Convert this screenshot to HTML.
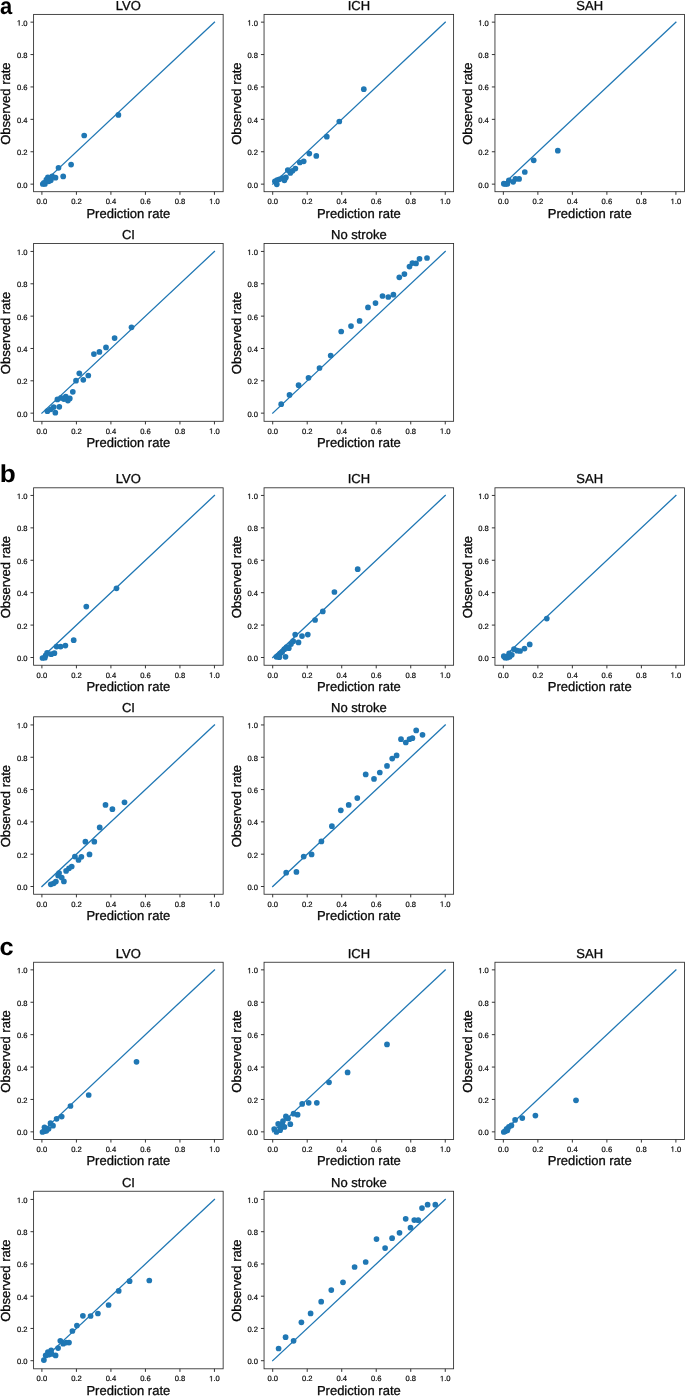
<!DOCTYPE html>
<html><head><meta charset="utf-8"><title>Calibration plots</title>
<style>
html,body{margin:0;padding:0;background:#fff;}
body{width:685px;height:1396px;overflow:hidden;}
svg{display:block;will-change:transform;}
text{font-family:"Liberation Sans",sans-serif;fill:#0a0a0a;text-rendering:geometricPrecision;}
.tk{font-size:7.6px;stroke:#0a0a0a;stroke-width:0.2px;}
.tk1{fill:#0a0a0a;stroke:#0a0a0a;stroke-width:53.89px;}
.lb{font-size:13px;stroke:#0a0a0a;stroke-width:0.3px;}
.pn{font-size:24.5px;font-weight:bold;fill:#000;}
.sp{fill:none;stroke:#2b2b2b;stroke-width:0.85;}
.ti{stroke:#2b2b2b;stroke-width:0.95;}
.ln{stroke:#1f77b4;stroke-width:1.28;stroke-linecap:square;fill:none;}
.pt{fill:#1f77b4;}
</style></head><body>
<svg width="685" height="1396" viewBox="0 0 685 1396">
<rect x="0" y="0" width="685" height="1396" fill="#fff"/>
<g>
<text class="lb" x="128.38" y="9.8" text-anchor="middle">LVO</text>
<line class="ln" x1="41.9" y1="184.15" x2="214.45" y2="22.15"/>
<circle class="pt" cx="118.4" cy="114.9" r="2.85"/>
<circle class="pt" cx="84.2" cy="135.5" r="2.85"/>
<circle class="pt" cx="71.1" cy="164.6" r="2.85"/>
<circle class="pt" cx="58.5" cy="167.8" r="2.85"/>
<circle class="pt" cx="63.2" cy="176.4" r="2.85"/>
<circle class="pt" cx="55.5" cy="177.7" r="2.85"/>
<circle class="pt" cx="52.2" cy="176.4" r="2.85"/>
<circle class="pt" cx="47.9" cy="177.4" r="2.85"/>
<circle class="pt" cx="50.8" cy="180.3" r="2.85"/>
<circle class="pt" cx="46.4" cy="179.6" r="2.85"/>
<circle class="pt" cx="48.6" cy="181.3" r="2.85"/>
<circle class="pt" cx="42.8" cy="184" r="2.85"/>
<circle class="pt" cx="44.9" cy="184" r="2.85"/>
<circle class="pt" cx="43.9" cy="182.8" r="2.85"/>
<rect class="sp" x="33.6" y="14.4" width="189.55" height="177.3"/>
<line class="ti" x1="41.9" y1="191.7" x2="41.9" y2="194.8"/>
<line class="ti" x1="30.5" y1="184.15" x2="33.6" y2="184.15"/>
<text class="tk" x="41.9" y="204.1" text-anchor="middle">0.0</text>
<text class="tk" x="27.5" y="187.6" text-anchor="end">0.0</text>
<line class="ti" x1="76.41" y1="191.7" x2="76.41" y2="194.8"/>
<line class="ti" x1="30.5" y1="151.75" x2="33.6" y2="151.75"/>
<text class="tk" x="76.41" y="204.1" text-anchor="middle">0.2</text>
<text class="tk" x="27.5" y="155.2" text-anchor="end">0.2</text>
<line class="ti" x1="110.92" y1="191.7" x2="110.92" y2="194.8"/>
<line class="ti" x1="30.5" y1="119.35" x2="33.6" y2="119.35"/>
<text class="tk" x="110.92" y="204.1" text-anchor="middle">0.4</text>
<text class="tk" x="27.5" y="122.8" text-anchor="end">0.4</text>
<line class="ti" x1="145.43" y1="191.7" x2="145.43" y2="194.8"/>
<line class="ti" x1="30.5" y1="86.95" x2="33.6" y2="86.95"/>
<text class="tk" x="145.43" y="204.1" text-anchor="middle">0.6</text>
<text class="tk" x="27.5" y="90.4" text-anchor="end">0.6</text>
<line class="ti" x1="179.94" y1="191.7" x2="179.94" y2="194.8"/>
<line class="ti" x1="30.5" y1="54.55" x2="33.6" y2="54.55"/>
<text class="tk" x="179.94" y="204.1" text-anchor="middle">0.8</text>
<text class="tk" x="27.5" y="58" text-anchor="end">0.8</text>
<line class="ti" x1="214.45" y1="191.7" x2="214.45" y2="194.8"/>
<line class="ti" x1="30.5" y1="22.15" x2="33.6" y2="22.15"/>
<path class="tk1" transform="translate(209.17 204.1) scale(0.00371)" d="M515 0V-1237L197 -1010V-1180L530 -1409H696V0Z"/><text class="tk" x="213.39" y="204.1">.0</text>
<path class="tk1" transform="translate(16.94 25.6) scale(0.00371)" d="M515 0V-1237L197 -1010V-1180L530 -1409H696V0Z"/><text class="tk" x="21.16" y="25.6">.0</text>
<text class="lb" x="128.38" y="217.7" text-anchor="middle">Prediction rate</text>
<text class="lb" transform="translate(10.2 103.65) rotate(-90)" text-anchor="middle">Observed rate</text>
</g>
<g>
<text class="lb" x="358.83" y="9.8" text-anchor="middle">ICH</text>
<line class="ln" x1="272.7" y1="184.15" x2="445.25" y2="22.15"/>
<circle class="pt" cx="363.8" cy="89.2" r="2.85"/>
<circle class="pt" cx="339.3" cy="121.5" r="2.85"/>
<circle class="pt" cx="326.8" cy="136.7" r="2.85"/>
<circle class="pt" cx="309.3" cy="153.6" r="2.85"/>
<circle class="pt" cx="316.3" cy="155.9" r="2.85"/>
<circle class="pt" cx="303.7" cy="161.3" r="2.85"/>
<circle class="pt" cx="299.8" cy="162.5" r="2.85"/>
<circle class="pt" cx="295.4" cy="168.6" r="2.85"/>
<circle class="pt" cx="292.5" cy="170.8" r="2.85"/>
<circle class="pt" cx="290.3" cy="173" r="2.85"/>
<circle class="pt" cx="287.8" cy="170.1" r="2.85"/>
<circle class="pt" cx="285.9" cy="177.4" r="2.85"/>
<circle class="pt" cx="282.2" cy="178.1" r="2.85"/>
<circle class="pt" cx="284.4" cy="180.3" r="2.85"/>
<circle class="pt" cx="279.3" cy="179.3" r="2.85"/>
<circle class="pt" cx="277.1" cy="180" r="2.85"/>
<circle class="pt" cx="274.9" cy="181.3" r="2.85"/>
<circle class="pt" cx="276.8" cy="184.3" r="2.85"/>
<rect class="sp" x="264.05" y="14.4" width="189.55" height="177.3"/>
<line class="ti" x1="272.7" y1="191.7" x2="272.7" y2="194.8"/>
<line class="ti" x1="260.95" y1="184.15" x2="264.05" y2="184.15"/>
<text class="tk" x="272.7" y="204.1" text-anchor="middle">0.0</text>
<text class="tk" x="257.95" y="187.6" text-anchor="end">0.0</text>
<line class="ti" x1="307.21" y1="191.7" x2="307.21" y2="194.8"/>
<line class="ti" x1="260.95" y1="151.75" x2="264.05" y2="151.75"/>
<text class="tk" x="307.21" y="204.1" text-anchor="middle">0.2</text>
<text class="tk" x="257.95" y="155.2" text-anchor="end">0.2</text>
<line class="ti" x1="341.72" y1="191.7" x2="341.72" y2="194.8"/>
<line class="ti" x1="260.95" y1="119.35" x2="264.05" y2="119.35"/>
<text class="tk" x="341.72" y="204.1" text-anchor="middle">0.4</text>
<text class="tk" x="257.95" y="122.8" text-anchor="end">0.4</text>
<line class="ti" x1="376.23" y1="191.7" x2="376.23" y2="194.8"/>
<line class="ti" x1="260.95" y1="86.95" x2="264.05" y2="86.95"/>
<text class="tk" x="376.23" y="204.1" text-anchor="middle">0.6</text>
<text class="tk" x="257.95" y="90.4" text-anchor="end">0.6</text>
<line class="ti" x1="410.74" y1="191.7" x2="410.74" y2="194.8"/>
<line class="ti" x1="260.95" y1="54.55" x2="264.05" y2="54.55"/>
<text class="tk" x="410.74" y="204.1" text-anchor="middle">0.8</text>
<text class="tk" x="257.95" y="58" text-anchor="end">0.8</text>
<line class="ti" x1="445.25" y1="191.7" x2="445.25" y2="194.8"/>
<line class="ti" x1="260.95" y1="22.15" x2="264.05" y2="22.15"/>
<path class="tk1" transform="translate(439.97 204.1) scale(0.00371)" d="M515 0V-1237L197 -1010V-1180L530 -1409H696V0Z"/><text class="tk" x="444.19" y="204.1">.0</text>
<path class="tk1" transform="translate(247.39 25.6) scale(0.00371)" d="M515 0V-1237L197 -1010V-1180L530 -1409H696V0Z"/><text class="tk" x="251.61" y="25.6">.0</text>
<text class="lb" x="358.83" y="217.7" text-anchor="middle">Prediction rate</text>
<text class="lb" transform="translate(240.65 103.65) rotate(-90)" text-anchor="middle">Observed rate</text>
</g>
<g>
<text class="lb" x="589.73" y="9.8" text-anchor="middle">SAH</text>
<line class="ln" x1="503.35" y1="184.15" x2="675.9" y2="22.15"/>
<circle class="pt" cx="557.8" cy="150.7" r="2.85"/>
<circle class="pt" cx="533.7" cy="160.3" r="2.85"/>
<circle class="pt" cx="524.8" cy="172" r="2.85"/>
<circle class="pt" cx="519.1" cy="178.9" r="2.85"/>
<circle class="pt" cx="515.4" cy="178.9" r="2.85"/>
<circle class="pt" cx="513.2" cy="181.8" r="2.85"/>
<circle class="pt" cx="508.9" cy="180.3" r="2.85"/>
<circle class="pt" cx="507.4" cy="184" r="2.85"/>
<circle class="pt" cx="505.2" cy="184" r="2.85"/>
<circle class="pt" cx="503.8" cy="183.7" r="2.85"/>
<rect class="sp" x="494.95" y="14.4" width="189.55" height="177.3"/>
<line class="ti" x1="503.35" y1="191.7" x2="503.35" y2="194.8"/>
<line class="ti" x1="491.85" y1="184.15" x2="494.95" y2="184.15"/>
<text class="tk" x="503.35" y="204.1" text-anchor="middle">0.0</text>
<text class="tk" x="488.85" y="187.6" text-anchor="end">0.0</text>
<line class="ti" x1="537.86" y1="191.7" x2="537.86" y2="194.8"/>
<line class="ti" x1="491.85" y1="151.75" x2="494.95" y2="151.75"/>
<text class="tk" x="537.86" y="204.1" text-anchor="middle">0.2</text>
<text class="tk" x="488.85" y="155.2" text-anchor="end">0.2</text>
<line class="ti" x1="572.37" y1="191.7" x2="572.37" y2="194.8"/>
<line class="ti" x1="491.85" y1="119.35" x2="494.95" y2="119.35"/>
<text class="tk" x="572.37" y="204.1" text-anchor="middle">0.4</text>
<text class="tk" x="488.85" y="122.8" text-anchor="end">0.4</text>
<line class="ti" x1="606.88" y1="191.7" x2="606.88" y2="194.8"/>
<line class="ti" x1="491.85" y1="86.95" x2="494.95" y2="86.95"/>
<text class="tk" x="606.88" y="204.1" text-anchor="middle">0.6</text>
<text class="tk" x="488.85" y="90.4" text-anchor="end">0.6</text>
<line class="ti" x1="641.39" y1="191.7" x2="641.39" y2="194.8"/>
<line class="ti" x1="491.85" y1="54.55" x2="494.95" y2="54.55"/>
<text class="tk" x="641.39" y="204.1" text-anchor="middle">0.8</text>
<text class="tk" x="488.85" y="58" text-anchor="end">0.8</text>
<line class="ti" x1="675.9" y1="191.7" x2="675.9" y2="194.8"/>
<line class="ti" x1="491.85" y1="22.15" x2="494.95" y2="22.15"/>
<path class="tk1" transform="translate(670.62 204.1) scale(0.00371)" d="M515 0V-1237L197 -1010V-1180L530 -1409H696V0Z"/><text class="tk" x="674.84" y="204.1">.0</text>
<path class="tk1" transform="translate(478.29 25.6) scale(0.00371)" d="M515 0V-1237L197 -1010V-1180L530 -1409H696V0Z"/><text class="tk" x="482.51" y="25.6">.0</text>
<text class="lb" x="589.73" y="217.7" text-anchor="middle">Prediction rate</text>
<text class="lb" transform="translate(471.55 103.65) rotate(-90)" text-anchor="middle">Observed rate</text>
</g>
<g>
<text class="lb" x="128.38" y="238.9" text-anchor="middle">CI</text>
<line class="ln" x1="41.9" y1="413.15" x2="214.45" y2="251.45"/>
<circle class="pt" cx="131.5" cy="327.3" r="2.85"/>
<circle class="pt" cx="114.6" cy="338.1" r="2.85"/>
<circle class="pt" cx="106" cy="347.4" r="2.85"/>
<circle class="pt" cx="99.4" cy="351.9" r="2.85"/>
<circle class="pt" cx="93.9" cy="354.1" r="2.85"/>
<circle class="pt" cx="79.3" cy="373.3" r="2.85"/>
<circle class="pt" cx="88.3" cy="375.5" r="2.85"/>
<circle class="pt" cx="83.3" cy="379.8" r="2.85"/>
<circle class="pt" cx="76" cy="380.7" r="2.85"/>
<circle class="pt" cx="72.8" cy="391.8" r="2.85"/>
<circle class="pt" cx="69.8" cy="398.4" r="2.85"/>
<circle class="pt" cx="67.9" cy="400.6" r="2.85"/>
<circle class="pt" cx="65.8" cy="396.5" r="2.85"/>
<circle class="pt" cx="63.9" cy="399.1" r="2.85"/>
<circle class="pt" cx="61" cy="397.9" r="2.85"/>
<circle class="pt" cx="57.4" cy="399.4" r="2.85"/>
<circle class="pt" cx="59.3" cy="406.8" r="2.85"/>
<circle class="pt" cx="53.7" cy="407.1" r="2.85"/>
<circle class="pt" cx="50.8" cy="409.3" r="2.85"/>
<circle class="pt" cx="47.4" cy="411.2" r="2.85"/>
<circle class="pt" cx="55.3" cy="412.7" r="2.85"/>
<rect class="sp" x="33.6" y="243.5" width="189.55" height="177.8"/>
<line class="ti" x1="41.9" y1="421.3" x2="41.9" y2="424.4"/>
<line class="ti" x1="30.5" y1="413.15" x2="33.6" y2="413.15"/>
<text class="tk" x="41.9" y="433.7" text-anchor="middle">0.0</text>
<text class="tk" x="27.5" y="416.6" text-anchor="end">0.0</text>
<line class="ti" x1="76.41" y1="421.3" x2="76.41" y2="424.4"/>
<line class="ti" x1="30.5" y1="380.81" x2="33.6" y2="380.81"/>
<text class="tk" x="76.41" y="433.7" text-anchor="middle">0.2</text>
<text class="tk" x="27.5" y="384.26" text-anchor="end">0.2</text>
<line class="ti" x1="110.92" y1="421.3" x2="110.92" y2="424.4"/>
<line class="ti" x1="30.5" y1="348.47" x2="33.6" y2="348.47"/>
<text class="tk" x="110.92" y="433.7" text-anchor="middle">0.4</text>
<text class="tk" x="27.5" y="351.92" text-anchor="end">0.4</text>
<line class="ti" x1="145.43" y1="421.3" x2="145.43" y2="424.4"/>
<line class="ti" x1="30.5" y1="316.13" x2="33.6" y2="316.13"/>
<text class="tk" x="145.43" y="433.7" text-anchor="middle">0.6</text>
<text class="tk" x="27.5" y="319.58" text-anchor="end">0.6</text>
<line class="ti" x1="179.94" y1="421.3" x2="179.94" y2="424.4"/>
<line class="ti" x1="30.5" y1="283.79" x2="33.6" y2="283.79"/>
<text class="tk" x="179.94" y="433.7" text-anchor="middle">0.8</text>
<text class="tk" x="27.5" y="287.24" text-anchor="end">0.8</text>
<line class="ti" x1="214.45" y1="421.3" x2="214.45" y2="424.4"/>
<line class="ti" x1="30.5" y1="251.45" x2="33.6" y2="251.45"/>
<path class="tk1" transform="translate(209.17 433.7) scale(0.00371)" d="M515 0V-1237L197 -1010V-1180L530 -1409H696V0Z"/><text class="tk" x="213.39" y="433.7">.0</text>
<path class="tk1" transform="translate(16.94 254.9) scale(0.00371)" d="M515 0V-1237L197 -1010V-1180L530 -1409H696V0Z"/><text class="tk" x="21.16" y="254.9">.0</text>
<text class="lb" x="128.38" y="447.3" text-anchor="middle">Prediction rate</text>
<text class="lb" transform="translate(10.2 333) rotate(-90)" text-anchor="middle">Observed rate</text>
</g>
<g>
<text class="lb" x="358.83" y="238.9" text-anchor="middle">No stroke</text>
<line class="ln" x1="272.7" y1="413.15" x2="445.25" y2="251.45"/>
<circle class="pt" cx="281.2" cy="404.2" r="2.85"/>
<circle class="pt" cx="289.5" cy="394.9" r="2.85"/>
<circle class="pt" cx="298.6" cy="385.2" r="2.85"/>
<circle class="pt" cx="308.5" cy="377.8" r="2.85"/>
<circle class="pt" cx="319.5" cy="368" r="2.85"/>
<circle class="pt" cx="330.7" cy="355.5" r="2.85"/>
<circle class="pt" cx="341.2" cy="331.5" r="2.85"/>
<circle class="pt" cx="351" cy="326.1" r="2.85"/>
<circle class="pt" cx="359.6" cy="320.9" r="2.85"/>
<circle class="pt" cx="368" cy="307.4" r="2.85"/>
<circle class="pt" cx="375.5" cy="303.1" r="2.85"/>
<circle class="pt" cx="382.5" cy="296" r="2.85"/>
<circle class="pt" cx="388.3" cy="297" r="2.85"/>
<circle class="pt" cx="393.4" cy="294.7" r="2.85"/>
<circle class="pt" cx="399.3" cy="277.3" r="2.85"/>
<circle class="pt" cx="404.4" cy="274.1" r="2.85"/>
<circle class="pt" cx="409.5" cy="266.6" r="2.85"/>
<circle class="pt" cx="412.4" cy="263.1" r="2.85"/>
<circle class="pt" cx="416" cy="263.4" r="2.85"/>
<circle class="pt" cx="419.5" cy="258.8" r="2.85"/>
<circle class="pt" cx="427" cy="258" r="2.85"/>
<rect class="sp" x="264.05" y="243.5" width="189.55" height="177.8"/>
<line class="ti" x1="272.7" y1="421.3" x2="272.7" y2="424.4"/>
<line class="ti" x1="260.95" y1="413.15" x2="264.05" y2="413.15"/>
<text class="tk" x="272.7" y="433.7" text-anchor="middle">0.0</text>
<text class="tk" x="257.95" y="416.6" text-anchor="end">0.0</text>
<line class="ti" x1="307.21" y1="421.3" x2="307.21" y2="424.4"/>
<line class="ti" x1="260.95" y1="380.81" x2="264.05" y2="380.81"/>
<text class="tk" x="307.21" y="433.7" text-anchor="middle">0.2</text>
<text class="tk" x="257.95" y="384.26" text-anchor="end">0.2</text>
<line class="ti" x1="341.72" y1="421.3" x2="341.72" y2="424.4"/>
<line class="ti" x1="260.95" y1="348.47" x2="264.05" y2="348.47"/>
<text class="tk" x="341.72" y="433.7" text-anchor="middle">0.4</text>
<text class="tk" x="257.95" y="351.92" text-anchor="end">0.4</text>
<line class="ti" x1="376.23" y1="421.3" x2="376.23" y2="424.4"/>
<line class="ti" x1="260.95" y1="316.13" x2="264.05" y2="316.13"/>
<text class="tk" x="376.23" y="433.7" text-anchor="middle">0.6</text>
<text class="tk" x="257.95" y="319.58" text-anchor="end">0.6</text>
<line class="ti" x1="410.74" y1="421.3" x2="410.74" y2="424.4"/>
<line class="ti" x1="260.95" y1="283.79" x2="264.05" y2="283.79"/>
<text class="tk" x="410.74" y="433.7" text-anchor="middle">0.8</text>
<text class="tk" x="257.95" y="287.24" text-anchor="end">0.8</text>
<line class="ti" x1="445.25" y1="421.3" x2="445.25" y2="424.4"/>
<line class="ti" x1="260.95" y1="251.45" x2="264.05" y2="251.45"/>
<path class="tk1" transform="translate(439.97 433.7) scale(0.00371)" d="M515 0V-1237L197 -1010V-1180L530 -1409H696V0Z"/><text class="tk" x="444.19" y="433.7">.0</text>
<path class="tk1" transform="translate(247.39 254.9) scale(0.00371)" d="M515 0V-1237L197 -1010V-1180L530 -1409H696V0Z"/><text class="tk" x="251.61" y="254.9">.0</text>
<text class="lb" x="358.83" y="447.3" text-anchor="middle">Prediction rate</text>
<text class="lb" transform="translate(240.65 333) rotate(-90)" text-anchor="middle">Observed rate</text>
</g>
<g>
<text class="lb" x="128.38" y="483.2" text-anchor="middle">LVO</text>
<line class="ln" x1="41.9" y1="657.5" x2="214.45" y2="495.45"/>
<circle class="pt" cx="116.5" cy="588.3" r="2.85"/>
<circle class="pt" cx="86.3" cy="606.6" r="2.85"/>
<circle class="pt" cx="73.7" cy="640.2" r="2.85"/>
<circle class="pt" cx="65.4" cy="645.6" r="2.85"/>
<circle class="pt" cx="60.6" cy="646.6" r="2.85"/>
<circle class="pt" cx="56.6" cy="646.6" r="2.85"/>
<circle class="pt" cx="54.4" cy="653.2" r="2.85"/>
<circle class="pt" cx="51.2" cy="654.2" r="2.85"/>
<circle class="pt" cx="47.1" cy="652.9" r="2.85"/>
<circle class="pt" cx="45.7" cy="655.3" r="2.85"/>
<circle class="pt" cx="44.9" cy="657.7" r="2.85"/>
<circle class="pt" cx="42.5" cy="658" r="2.85"/>
<rect class="sp" x="33.6" y="487.8" width="189.55" height="177.45"/>
<line class="ti" x1="41.9" y1="665.25" x2="41.9" y2="668.35"/>
<line class="ti" x1="30.5" y1="657.5" x2="33.6" y2="657.5"/>
<text class="tk" x="41.9" y="677.65" text-anchor="middle">0.0</text>
<text class="tk" x="27.5" y="660.95" text-anchor="end">0.0</text>
<line class="ti" x1="76.41" y1="665.25" x2="76.41" y2="668.35"/>
<line class="ti" x1="30.5" y1="625.09" x2="33.6" y2="625.09"/>
<text class="tk" x="76.41" y="677.65" text-anchor="middle">0.2</text>
<text class="tk" x="27.5" y="628.54" text-anchor="end">0.2</text>
<line class="ti" x1="110.92" y1="665.25" x2="110.92" y2="668.35"/>
<line class="ti" x1="30.5" y1="592.68" x2="33.6" y2="592.68"/>
<text class="tk" x="110.92" y="677.65" text-anchor="middle">0.4</text>
<text class="tk" x="27.5" y="596.13" text-anchor="end">0.4</text>
<line class="ti" x1="145.43" y1="665.25" x2="145.43" y2="668.35"/>
<line class="ti" x1="30.5" y1="560.27" x2="33.6" y2="560.27"/>
<text class="tk" x="145.43" y="677.65" text-anchor="middle">0.6</text>
<text class="tk" x="27.5" y="563.72" text-anchor="end">0.6</text>
<line class="ti" x1="179.94" y1="665.25" x2="179.94" y2="668.35"/>
<line class="ti" x1="30.5" y1="527.86" x2="33.6" y2="527.86"/>
<text class="tk" x="179.94" y="677.65" text-anchor="middle">0.8</text>
<text class="tk" x="27.5" y="531.31" text-anchor="end">0.8</text>
<line class="ti" x1="214.45" y1="665.25" x2="214.45" y2="668.35"/>
<line class="ti" x1="30.5" y1="495.45" x2="33.6" y2="495.45"/>
<path class="tk1" transform="translate(209.17 677.65) scale(0.00371)" d="M515 0V-1237L197 -1010V-1180L530 -1409H696V0Z"/><text class="tk" x="213.39" y="677.65">.0</text>
<path class="tk1" transform="translate(16.94 498.9) scale(0.00371)" d="M515 0V-1237L197 -1010V-1180L530 -1409H696V0Z"/><text class="tk" x="21.16" y="498.9">.0</text>
<text class="lb" x="128.38" y="691.25" text-anchor="middle">Prediction rate</text>
<text class="lb" transform="translate(10.2 577.12) rotate(-90)" text-anchor="middle">Observed rate</text>
</g>
<g>
<text class="lb" x="358.83" y="483.2" text-anchor="middle">ICH</text>
<line class="ln" x1="272.7" y1="657.5" x2="445.25" y2="495.45"/>
<circle class="pt" cx="357.7" cy="569.2" r="2.85"/>
<circle class="pt" cx="334.4" cy="592" r="2.85"/>
<circle class="pt" cx="322.8" cy="611.4" r="2.85"/>
<circle class="pt" cx="315.1" cy="620" r="2.85"/>
<circle class="pt" cx="307.8" cy="634.6" r="2.85"/>
<circle class="pt" cx="302" cy="636.1" r="2.85"/>
<circle class="pt" cx="295.2" cy="634.6" r="2.85"/>
<circle class="pt" cx="298.5" cy="642.4" r="2.85"/>
<circle class="pt" cx="293.2" cy="641.2" r="2.85"/>
<circle class="pt" cx="291" cy="644.1" r="2.85"/>
<circle class="pt" cx="288.8" cy="648.2" r="2.85"/>
<circle class="pt" cx="286.6" cy="647" r="2.85"/>
<circle class="pt" cx="284.4" cy="649.2" r="2.85"/>
<circle class="pt" cx="282.2" cy="652.1" r="2.85"/>
<circle class="pt" cx="280.1" cy="653.6" r="2.85"/>
<circle class="pt" cx="277.9" cy="655.8" r="2.85"/>
<circle class="pt" cx="285.5" cy="656.8" r="2.85"/>
<circle class="pt" cx="276.4" cy="656.8" r="2.85"/>
<circle class="pt" cx="279.3" cy="657.2" r="2.85"/>
<rect class="sp" x="264.05" y="487.8" width="189.55" height="177.45"/>
<line class="ti" x1="272.7" y1="665.25" x2="272.7" y2="668.35"/>
<line class="ti" x1="260.95" y1="657.5" x2="264.05" y2="657.5"/>
<text class="tk" x="272.7" y="677.65" text-anchor="middle">0.0</text>
<text class="tk" x="257.95" y="660.95" text-anchor="end">0.0</text>
<line class="ti" x1="307.21" y1="665.25" x2="307.21" y2="668.35"/>
<line class="ti" x1="260.95" y1="625.09" x2="264.05" y2="625.09"/>
<text class="tk" x="307.21" y="677.65" text-anchor="middle">0.2</text>
<text class="tk" x="257.95" y="628.54" text-anchor="end">0.2</text>
<line class="ti" x1="341.72" y1="665.25" x2="341.72" y2="668.35"/>
<line class="ti" x1="260.95" y1="592.68" x2="264.05" y2="592.68"/>
<text class="tk" x="341.72" y="677.65" text-anchor="middle">0.4</text>
<text class="tk" x="257.95" y="596.13" text-anchor="end">0.4</text>
<line class="ti" x1="376.23" y1="665.25" x2="376.23" y2="668.35"/>
<line class="ti" x1="260.95" y1="560.27" x2="264.05" y2="560.27"/>
<text class="tk" x="376.23" y="677.65" text-anchor="middle">0.6</text>
<text class="tk" x="257.95" y="563.72" text-anchor="end">0.6</text>
<line class="ti" x1="410.74" y1="665.25" x2="410.74" y2="668.35"/>
<line class="ti" x1="260.95" y1="527.86" x2="264.05" y2="527.86"/>
<text class="tk" x="410.74" y="677.65" text-anchor="middle">0.8</text>
<text class="tk" x="257.95" y="531.31" text-anchor="end">0.8</text>
<line class="ti" x1="445.25" y1="665.25" x2="445.25" y2="668.35"/>
<line class="ti" x1="260.95" y1="495.45" x2="264.05" y2="495.45"/>
<path class="tk1" transform="translate(439.97 677.65) scale(0.00371)" d="M515 0V-1237L197 -1010V-1180L530 -1409H696V0Z"/><text class="tk" x="444.19" y="677.65">.0</text>
<path class="tk1" transform="translate(247.39 498.9) scale(0.00371)" d="M515 0V-1237L197 -1010V-1180L530 -1409H696V0Z"/><text class="tk" x="251.61" y="498.9">.0</text>
<text class="lb" x="358.83" y="691.25" text-anchor="middle">Prediction rate</text>
<text class="lb" transform="translate(240.65 577.12) rotate(-90)" text-anchor="middle">Observed rate</text>
</g>
<g>
<text class="lb" x="589.73" y="483.2" text-anchor="middle">SAH</text>
<line class="ln" x1="503.35" y1="657.5" x2="675.9" y2="495.45"/>
<circle class="pt" cx="546.8" cy="618.6" r="2.85"/>
<circle class="pt" cx="529.7" cy="644.4" r="2.85"/>
<circle class="pt" cx="524.5" cy="648.6" r="2.85"/>
<circle class="pt" cx="520.1" cy="651" r="2.85"/>
<circle class="pt" cx="517.2" cy="650.7" r="2.85"/>
<circle class="pt" cx="514" cy="649.2" r="2.85"/>
<circle class="pt" cx="511.8" cy="654.8" r="2.85"/>
<circle class="pt" cx="509.2" cy="653.3" r="2.85"/>
<circle class="pt" cx="509.6" cy="656.8" r="2.85"/>
<circle class="pt" cx="507.4" cy="657.7" r="2.85"/>
<circle class="pt" cx="505.2" cy="657.7" r="2.85"/>
<circle class="pt" cx="503.8" cy="656.2" r="2.85"/>
<rect class="sp" x="494.95" y="487.8" width="189.55" height="177.45"/>
<line class="ti" x1="503.35" y1="665.25" x2="503.35" y2="668.35"/>
<line class="ti" x1="491.85" y1="657.5" x2="494.95" y2="657.5"/>
<text class="tk" x="503.35" y="677.65" text-anchor="middle">0.0</text>
<text class="tk" x="488.85" y="660.95" text-anchor="end">0.0</text>
<line class="ti" x1="537.86" y1="665.25" x2="537.86" y2="668.35"/>
<line class="ti" x1="491.85" y1="625.09" x2="494.95" y2="625.09"/>
<text class="tk" x="537.86" y="677.65" text-anchor="middle">0.2</text>
<text class="tk" x="488.85" y="628.54" text-anchor="end">0.2</text>
<line class="ti" x1="572.37" y1="665.25" x2="572.37" y2="668.35"/>
<line class="ti" x1="491.85" y1="592.68" x2="494.95" y2="592.68"/>
<text class="tk" x="572.37" y="677.65" text-anchor="middle">0.4</text>
<text class="tk" x="488.85" y="596.13" text-anchor="end">0.4</text>
<line class="ti" x1="606.88" y1="665.25" x2="606.88" y2="668.35"/>
<line class="ti" x1="491.85" y1="560.27" x2="494.95" y2="560.27"/>
<text class="tk" x="606.88" y="677.65" text-anchor="middle">0.6</text>
<text class="tk" x="488.85" y="563.72" text-anchor="end">0.6</text>
<line class="ti" x1="641.39" y1="665.25" x2="641.39" y2="668.35"/>
<line class="ti" x1="491.85" y1="527.86" x2="494.95" y2="527.86"/>
<text class="tk" x="641.39" y="677.65" text-anchor="middle">0.8</text>
<text class="tk" x="488.85" y="531.31" text-anchor="end">0.8</text>
<line class="ti" x1="675.9" y1="665.25" x2="675.9" y2="668.35"/>
<line class="ti" x1="491.85" y1="495.45" x2="494.95" y2="495.45"/>
<path class="tk1" transform="translate(670.62 677.65) scale(0.00371)" d="M515 0V-1237L197 -1010V-1180L530 -1409H696V0Z"/><text class="tk" x="674.84" y="677.65">.0</text>
<path class="tk1" transform="translate(478.29 498.9) scale(0.00371)" d="M515 0V-1237L197 -1010V-1180L530 -1409H696V0Z"/><text class="tk" x="482.51" y="498.9">.0</text>
<text class="lb" x="589.73" y="691.25" text-anchor="middle">Prediction rate</text>
<text class="lb" transform="translate(471.55 577.12) rotate(-90)" text-anchor="middle">Observed rate</text>
</g>
<g>
<text class="lb" x="128.38" y="712.2" text-anchor="middle">CI</text>
<line class="ln" x1="41.9" y1="886.5" x2="214.45" y2="724.95"/>
<circle class="pt" cx="124.5" cy="802.3" r="2.85"/>
<circle class="pt" cx="112.4" cy="809.2" r="2.85"/>
<circle class="pt" cx="105.5" cy="804.9" r="2.85"/>
<circle class="pt" cx="99.7" cy="827.4" r="2.85"/>
<circle class="pt" cx="94.3" cy="841.7" r="2.85"/>
<circle class="pt" cx="85.4" cy="841.7" r="2.85"/>
<circle class="pt" cx="89.5" cy="854.4" r="2.85"/>
<circle class="pt" cx="81.4" cy="856.8" r="2.85"/>
<circle class="pt" cx="78.5" cy="860" r="2.85"/>
<circle class="pt" cx="74.9" cy="856.6" r="2.85"/>
<circle class="pt" cx="71.7" cy="866.5" r="2.85"/>
<circle class="pt" cx="69" cy="868.3" r="2.85"/>
<circle class="pt" cx="66.1" cy="870.9" r="2.85"/>
<circle class="pt" cx="59.1" cy="873.1" r="2.85"/>
<circle class="pt" cx="58.1" cy="875.6" r="2.85"/>
<circle class="pt" cx="61.7" cy="877.5" r="2.85"/>
<circle class="pt" cx="63.9" cy="881.4" r="2.85"/>
<circle class="pt" cx="55.9" cy="881.6" r="2.85"/>
<circle class="pt" cx="53.7" cy="883.3" r="2.85"/>
<circle class="pt" cx="50.8" cy="884.3" r="2.85"/>
<rect class="sp" x="33.6" y="716.8" width="189.55" height="177.45"/>
<line class="ti" x1="41.9" y1="894.25" x2="41.9" y2="897.35"/>
<line class="ti" x1="30.5" y1="886.5" x2="33.6" y2="886.5"/>
<text class="tk" x="41.9" y="906.65" text-anchor="middle">0.0</text>
<text class="tk" x="27.5" y="889.95" text-anchor="end">0.0</text>
<line class="ti" x1="76.41" y1="894.25" x2="76.41" y2="897.35"/>
<line class="ti" x1="30.5" y1="854.19" x2="33.6" y2="854.19"/>
<text class="tk" x="76.41" y="906.65" text-anchor="middle">0.2</text>
<text class="tk" x="27.5" y="857.64" text-anchor="end">0.2</text>
<line class="ti" x1="110.92" y1="894.25" x2="110.92" y2="897.35"/>
<line class="ti" x1="30.5" y1="821.88" x2="33.6" y2="821.88"/>
<text class="tk" x="110.92" y="906.65" text-anchor="middle">0.4</text>
<text class="tk" x="27.5" y="825.33" text-anchor="end">0.4</text>
<line class="ti" x1="145.43" y1="894.25" x2="145.43" y2="897.35"/>
<line class="ti" x1="30.5" y1="789.57" x2="33.6" y2="789.57"/>
<text class="tk" x="145.43" y="906.65" text-anchor="middle">0.6</text>
<text class="tk" x="27.5" y="793.02" text-anchor="end">0.6</text>
<line class="ti" x1="179.94" y1="894.25" x2="179.94" y2="897.35"/>
<line class="ti" x1="30.5" y1="757.26" x2="33.6" y2="757.26"/>
<text class="tk" x="179.94" y="906.65" text-anchor="middle">0.8</text>
<text class="tk" x="27.5" y="760.71" text-anchor="end">0.8</text>
<line class="ti" x1="214.45" y1="894.25" x2="214.45" y2="897.35"/>
<line class="ti" x1="30.5" y1="724.95" x2="33.6" y2="724.95"/>
<path class="tk1" transform="translate(209.17 906.65) scale(0.00371)" d="M515 0V-1237L197 -1010V-1180L530 -1409H696V0Z"/><text class="tk" x="213.39" y="906.65">.0</text>
<path class="tk1" transform="translate(16.94 728.4) scale(0.00371)" d="M515 0V-1237L197 -1010V-1180L530 -1409H696V0Z"/><text class="tk" x="21.16" y="728.4">.0</text>
<text class="lb" x="128.38" y="920.25" text-anchor="middle">Prediction rate</text>
<text class="lb" transform="translate(10.2 806.12) rotate(-90)" text-anchor="middle">Observed rate</text>
</g>
<g>
<text class="lb" x="358.83" y="712.2" text-anchor="middle">No stroke</text>
<line class="ln" x1="272.7" y1="886.5" x2="445.25" y2="724.95"/>
<circle class="pt" cx="286.2" cy="872.7" r="2.85"/>
<circle class="pt" cx="296.4" cy="871.9" r="2.85"/>
<circle class="pt" cx="303.7" cy="856.6" r="2.85"/>
<circle class="pt" cx="311.6" cy="854.4" r="2.85"/>
<circle class="pt" cx="321.4" cy="841.4" r="2.85"/>
<circle class="pt" cx="331.9" cy="826.2" r="2.85"/>
<circle class="pt" cx="340.8" cy="810.3" r="2.85"/>
<circle class="pt" cx="348.7" cy="804.9" r="2.85"/>
<circle class="pt" cx="357.3" cy="798.1" r="2.85"/>
<circle class="pt" cx="365.7" cy="774.4" r="2.85"/>
<circle class="pt" cx="374" cy="778.9" r="2.85"/>
<circle class="pt" cx="379.8" cy="772.5" r="2.85"/>
<circle class="pt" cx="387" cy="765.9" r="2.85"/>
<circle class="pt" cx="392.2" cy="758.6" r="2.85"/>
<circle class="pt" cx="396.6" cy="755.4" r="2.85"/>
<circle class="pt" cx="401" cy="739.2" r="2.85"/>
<circle class="pt" cx="405.8" cy="742.5" r="2.85"/>
<circle class="pt" cx="409.5" cy="739.2" r="2.85"/>
<circle class="pt" cx="412.4" cy="738.2" r="2.85"/>
<circle class="pt" cx="416.2" cy="730.4" r="2.85"/>
<circle class="pt" cx="422.5" cy="734.8" r="2.85"/>
<rect class="sp" x="264.05" y="716.8" width="189.55" height="177.45"/>
<line class="ti" x1="272.7" y1="894.25" x2="272.7" y2="897.35"/>
<line class="ti" x1="260.95" y1="886.5" x2="264.05" y2="886.5"/>
<text class="tk" x="272.7" y="906.65" text-anchor="middle">0.0</text>
<text class="tk" x="257.95" y="889.95" text-anchor="end">0.0</text>
<line class="ti" x1="307.21" y1="894.25" x2="307.21" y2="897.35"/>
<line class="ti" x1="260.95" y1="854.19" x2="264.05" y2="854.19"/>
<text class="tk" x="307.21" y="906.65" text-anchor="middle">0.2</text>
<text class="tk" x="257.95" y="857.64" text-anchor="end">0.2</text>
<line class="ti" x1="341.72" y1="894.25" x2="341.72" y2="897.35"/>
<line class="ti" x1="260.95" y1="821.88" x2="264.05" y2="821.88"/>
<text class="tk" x="341.72" y="906.65" text-anchor="middle">0.4</text>
<text class="tk" x="257.95" y="825.33" text-anchor="end">0.4</text>
<line class="ti" x1="376.23" y1="894.25" x2="376.23" y2="897.35"/>
<line class="ti" x1="260.95" y1="789.57" x2="264.05" y2="789.57"/>
<text class="tk" x="376.23" y="906.65" text-anchor="middle">0.6</text>
<text class="tk" x="257.95" y="793.02" text-anchor="end">0.6</text>
<line class="ti" x1="410.74" y1="894.25" x2="410.74" y2="897.35"/>
<line class="ti" x1="260.95" y1="757.26" x2="264.05" y2="757.26"/>
<text class="tk" x="410.74" y="906.65" text-anchor="middle">0.8</text>
<text class="tk" x="257.95" y="760.71" text-anchor="end">0.8</text>
<line class="ti" x1="445.25" y1="894.25" x2="445.25" y2="897.35"/>
<line class="ti" x1="260.95" y1="724.95" x2="264.05" y2="724.95"/>
<path class="tk1" transform="translate(439.97 906.65) scale(0.00371)" d="M515 0V-1237L197 -1010V-1180L530 -1409H696V0Z"/><text class="tk" x="444.19" y="906.65">.0</text>
<path class="tk1" transform="translate(247.39 728.4) scale(0.00371)" d="M515 0V-1237L197 -1010V-1180L530 -1409H696V0Z"/><text class="tk" x="251.61" y="728.4">.0</text>
<text class="lb" x="358.83" y="920.25" text-anchor="middle">Prediction rate</text>
<text class="lb" transform="translate(240.65 806.12) rotate(-90)" text-anchor="middle">Observed rate</text>
</g>
<g>
<text class="lb" x="128.38" y="957.65" text-anchor="middle">LVO</text>
<line class="ln" x1="41.9" y1="1131.85" x2="214.45" y2="969.85"/>
<circle class="pt" cx="136.5" cy="1061.8" r="2.85"/>
<circle class="pt" cx="88.7" cy="1095" r="2.85"/>
<circle class="pt" cx="70.5" cy="1106" r="2.85"/>
<circle class="pt" cx="61.7" cy="1116.6" r="2.85"/>
<circle class="pt" cx="56.6" cy="1118.8" r="2.85"/>
<circle class="pt" cx="50.5" cy="1123.2" r="2.85"/>
<circle class="pt" cx="53" cy="1125.7" r="2.85"/>
<circle class="pt" cx="44.5" cy="1127.3" r="2.85"/>
<circle class="pt" cx="48.6" cy="1128.8" r="2.85"/>
<circle class="pt" cx="46.4" cy="1130.8" r="2.85"/>
<circle class="pt" cx="44.2" cy="1131.2" r="2.85"/>
<circle class="pt" cx="42.5" cy="1132" r="2.85"/>
<rect class="sp" x="33.6" y="962.25" width="189.55" height="177.2"/>
<line class="ti" x1="41.9" y1="1139.45" x2="41.9" y2="1142.55"/>
<line class="ti" x1="30.5" y1="1131.85" x2="33.6" y2="1131.85"/>
<text class="tk" x="41.9" y="1151.85" text-anchor="middle">0.0</text>
<text class="tk" x="27.5" y="1135.3" text-anchor="end">0.0</text>
<line class="ti" x1="76.41" y1="1139.45" x2="76.41" y2="1142.55"/>
<line class="ti" x1="30.5" y1="1099.45" x2="33.6" y2="1099.45"/>
<text class="tk" x="76.41" y="1151.85" text-anchor="middle">0.2</text>
<text class="tk" x="27.5" y="1102.9" text-anchor="end">0.2</text>
<line class="ti" x1="110.92" y1="1139.45" x2="110.92" y2="1142.55"/>
<line class="ti" x1="30.5" y1="1067.05" x2="33.6" y2="1067.05"/>
<text class="tk" x="110.92" y="1151.85" text-anchor="middle">0.4</text>
<text class="tk" x="27.5" y="1070.5" text-anchor="end">0.4</text>
<line class="ti" x1="145.43" y1="1139.45" x2="145.43" y2="1142.55"/>
<line class="ti" x1="30.5" y1="1034.65" x2="33.6" y2="1034.65"/>
<text class="tk" x="145.43" y="1151.85" text-anchor="middle">0.6</text>
<text class="tk" x="27.5" y="1038.1" text-anchor="end">0.6</text>
<line class="ti" x1="179.94" y1="1139.45" x2="179.94" y2="1142.55"/>
<line class="ti" x1="30.5" y1="1002.25" x2="33.6" y2="1002.25"/>
<text class="tk" x="179.94" y="1151.85" text-anchor="middle">0.8</text>
<text class="tk" x="27.5" y="1005.7" text-anchor="end">0.8</text>
<line class="ti" x1="214.45" y1="1139.45" x2="214.45" y2="1142.55"/>
<line class="ti" x1="30.5" y1="969.85" x2="33.6" y2="969.85"/>
<path class="tk1" transform="translate(209.17 1151.85) scale(0.00371)" d="M515 0V-1237L197 -1010V-1180L530 -1409H696V0Z"/><text class="tk" x="213.39" y="1151.85">.0</text>
<path class="tk1" transform="translate(16.94 973.3) scale(0.00371)" d="M515 0V-1237L197 -1010V-1180L530 -1409H696V0Z"/><text class="tk" x="21.16" y="973.3">.0</text>
<text class="lb" x="128.38" y="1165.45" text-anchor="middle">Prediction rate</text>
<text class="lb" transform="translate(10.2 1051.45) rotate(-90)" text-anchor="middle">Observed rate</text>
</g>
<g>
<text class="lb" x="358.83" y="957.65" text-anchor="middle">ICH</text>
<line class="ln" x1="272.7" y1="1131.85" x2="445.25" y2="969.85"/>
<circle class="pt" cx="387" cy="1044.4" r="2.85"/>
<circle class="pt" cx="347.6" cy="1072.4" r="2.85"/>
<circle class="pt" cx="329" cy="1082.3" r="2.85"/>
<circle class="pt" cx="316.8" cy="1102.8" r="2.85"/>
<circle class="pt" cx="308.7" cy="1102.8" r="2.85"/>
<circle class="pt" cx="302.2" cy="1103.9" r="2.85"/>
<circle class="pt" cx="297.6" cy="1114.7" r="2.85"/>
<circle class="pt" cx="293.6" cy="1113.7" r="2.85"/>
<circle class="pt" cx="285.9" cy="1116.4" r="2.85"/>
<circle class="pt" cx="288.1" cy="1118.4" r="2.85"/>
<circle class="pt" cx="283" cy="1121" r="2.85"/>
<circle class="pt" cx="290.3" cy="1124.2" r="2.85"/>
<circle class="pt" cx="278.2" cy="1123.9" r="2.85"/>
<circle class="pt" cx="284.4" cy="1126.9" r="2.85"/>
<circle class="pt" cx="280.8" cy="1127.6" r="2.85"/>
<circle class="pt" cx="280.1" cy="1130.2" r="2.85"/>
<circle class="pt" cx="274.2" cy="1129.1" r="2.85"/>
<circle class="pt" cx="276.4" cy="1132" r="2.85"/>
<circle class="pt" cx="282.2" cy="1123.9" r="2.85"/>
<rect class="sp" x="264.05" y="962.25" width="189.55" height="177.2"/>
<line class="ti" x1="272.7" y1="1139.45" x2="272.7" y2="1142.55"/>
<line class="ti" x1="260.95" y1="1131.85" x2="264.05" y2="1131.85"/>
<text class="tk" x="272.7" y="1151.85" text-anchor="middle">0.0</text>
<text class="tk" x="257.95" y="1135.3" text-anchor="end">0.0</text>
<line class="ti" x1="307.21" y1="1139.45" x2="307.21" y2="1142.55"/>
<line class="ti" x1="260.95" y1="1099.45" x2="264.05" y2="1099.45"/>
<text class="tk" x="307.21" y="1151.85" text-anchor="middle">0.2</text>
<text class="tk" x="257.95" y="1102.9" text-anchor="end">0.2</text>
<line class="ti" x1="341.72" y1="1139.45" x2="341.72" y2="1142.55"/>
<line class="ti" x1="260.95" y1="1067.05" x2="264.05" y2="1067.05"/>
<text class="tk" x="341.72" y="1151.85" text-anchor="middle">0.4</text>
<text class="tk" x="257.95" y="1070.5" text-anchor="end">0.4</text>
<line class="ti" x1="376.23" y1="1139.45" x2="376.23" y2="1142.55"/>
<line class="ti" x1="260.95" y1="1034.65" x2="264.05" y2="1034.65"/>
<text class="tk" x="376.23" y="1151.85" text-anchor="middle">0.6</text>
<text class="tk" x="257.95" y="1038.1" text-anchor="end">0.6</text>
<line class="ti" x1="410.74" y1="1139.45" x2="410.74" y2="1142.55"/>
<line class="ti" x1="260.95" y1="1002.25" x2="264.05" y2="1002.25"/>
<text class="tk" x="410.74" y="1151.85" text-anchor="middle">0.8</text>
<text class="tk" x="257.95" y="1005.7" text-anchor="end">0.8</text>
<line class="ti" x1="445.25" y1="1139.45" x2="445.25" y2="1142.55"/>
<line class="ti" x1="260.95" y1="969.85" x2="264.05" y2="969.85"/>
<path class="tk1" transform="translate(439.97 1151.85) scale(0.00371)" d="M515 0V-1237L197 -1010V-1180L530 -1409H696V0Z"/><text class="tk" x="444.19" y="1151.85">.0</text>
<path class="tk1" transform="translate(247.39 973.3) scale(0.00371)" d="M515 0V-1237L197 -1010V-1180L530 -1409H696V0Z"/><text class="tk" x="251.61" y="973.3">.0</text>
<text class="lb" x="358.83" y="1165.45" text-anchor="middle">Prediction rate</text>
<text class="lb" transform="translate(240.65 1051.45) rotate(-90)" text-anchor="middle">Observed rate</text>
</g>
<g>
<text class="lb" x="589.73" y="957.65" text-anchor="middle">SAH</text>
<line class="ln" x1="503.35" y1="1131.85" x2="675.9" y2="969.85"/>
<circle class="pt" cx="576" cy="1100.3" r="2.85"/>
<circle class="pt" cx="535.4" cy="1115.6" r="2.85"/>
<circle class="pt" cx="522.3" cy="1118.1" r="2.85"/>
<circle class="pt" cx="515.1" cy="1119.9" r="2.85"/>
<circle class="pt" cx="511.4" cy="1125.4" r="2.85"/>
<circle class="pt" cx="508.9" cy="1126.9" r="2.85"/>
<circle class="pt" cx="506.7" cy="1128.8" r="2.85"/>
<circle class="pt" cx="507.4" cy="1130.5" r="2.85"/>
<circle class="pt" cx="505.2" cy="1131.2" r="2.85"/>
<circle class="pt" cx="503.8" cy="1132" r="2.85"/>
<rect class="sp" x="494.95" y="962.25" width="189.55" height="177.2"/>
<line class="ti" x1="503.35" y1="1139.45" x2="503.35" y2="1142.55"/>
<line class="ti" x1="491.85" y1="1131.85" x2="494.95" y2="1131.85"/>
<text class="tk" x="503.35" y="1151.85" text-anchor="middle">0.0</text>
<text class="tk" x="488.85" y="1135.3" text-anchor="end">0.0</text>
<line class="ti" x1="537.86" y1="1139.45" x2="537.86" y2="1142.55"/>
<line class="ti" x1="491.85" y1="1099.45" x2="494.95" y2="1099.45"/>
<text class="tk" x="537.86" y="1151.85" text-anchor="middle">0.2</text>
<text class="tk" x="488.85" y="1102.9" text-anchor="end">0.2</text>
<line class="ti" x1="572.37" y1="1139.45" x2="572.37" y2="1142.55"/>
<line class="ti" x1="491.85" y1="1067.05" x2="494.95" y2="1067.05"/>
<text class="tk" x="572.37" y="1151.85" text-anchor="middle">0.4</text>
<text class="tk" x="488.85" y="1070.5" text-anchor="end">0.4</text>
<line class="ti" x1="606.88" y1="1139.45" x2="606.88" y2="1142.55"/>
<line class="ti" x1="491.85" y1="1034.65" x2="494.95" y2="1034.65"/>
<text class="tk" x="606.88" y="1151.85" text-anchor="middle">0.6</text>
<text class="tk" x="488.85" y="1038.1" text-anchor="end">0.6</text>
<line class="ti" x1="641.39" y1="1139.45" x2="641.39" y2="1142.55"/>
<line class="ti" x1="491.85" y1="1002.25" x2="494.95" y2="1002.25"/>
<text class="tk" x="641.39" y="1151.85" text-anchor="middle">0.8</text>
<text class="tk" x="488.85" y="1005.7" text-anchor="end">0.8</text>
<line class="ti" x1="675.9" y1="1139.45" x2="675.9" y2="1142.55"/>
<line class="ti" x1="491.85" y1="969.85" x2="494.95" y2="969.85"/>
<path class="tk1" transform="translate(670.62 1151.85) scale(0.00371)" d="M515 0V-1237L197 -1010V-1180L530 -1409H696V0Z"/><text class="tk" x="674.84" y="1151.85">.0</text>
<path class="tk1" transform="translate(478.29 973.3) scale(0.00371)" d="M515 0V-1237L197 -1010V-1180L530 -1409H696V0Z"/><text class="tk" x="482.51" y="973.3">.0</text>
<text class="lb" x="589.73" y="1165.45" text-anchor="middle">Prediction rate</text>
<text class="lb" transform="translate(471.55 1051.45) rotate(-90)" text-anchor="middle">Observed rate</text>
</g>
<g>
<text class="lb" x="128.38" y="1186.65" text-anchor="middle">CI</text>
<line class="ln" x1="41.9" y1="1360.7" x2="214.45" y2="1199.45"/>
<circle class="pt" cx="149.3" cy="1280.5" r="2.85"/>
<circle class="pt" cx="129.6" cy="1281.2" r="2.85"/>
<circle class="pt" cx="118.7" cy="1290.9" r="2.85"/>
<circle class="pt" cx="108.6" cy="1305" r="2.85"/>
<circle class="pt" cx="97.9" cy="1313.5" r="2.85"/>
<circle class="pt" cx="90.6" cy="1316" r="2.85"/>
<circle class="pt" cx="82.9" cy="1315.8" r="2.85"/>
<circle class="pt" cx="76.9" cy="1325.5" r="2.85"/>
<circle class="pt" cx="72.4" cy="1331" r="2.85"/>
<circle class="pt" cx="69" cy="1342.6" r="2.85"/>
<circle class="pt" cx="66.1" cy="1342.6" r="2.85"/>
<circle class="pt" cx="63.2" cy="1343.7" r="2.85"/>
<circle class="pt" cx="60.3" cy="1340.8" r="2.85"/>
<circle class="pt" cx="58.1" cy="1348.1" r="2.85"/>
<circle class="pt" cx="51.2" cy="1350.3" r="2.85"/>
<circle class="pt" cx="47.9" cy="1352" r="2.85"/>
<circle class="pt" cx="51.5" cy="1353.9" r="2.85"/>
<circle class="pt" cx="55.6" cy="1355.4" r="2.85"/>
<circle class="pt" cx="48.6" cy="1354.7" r="2.85"/>
<circle class="pt" cx="45.7" cy="1355.4" r="2.85"/>
<circle class="pt" cx="43.9" cy="1360.1" r="2.85"/>
<rect class="sp" x="33.6" y="1191.25" width="189.55" height="177.55"/>
<line class="ti" x1="41.9" y1="1368.8" x2="41.9" y2="1371.9"/>
<line class="ti" x1="30.5" y1="1360.7" x2="33.6" y2="1360.7"/>
<text class="tk" x="41.9" y="1381.2" text-anchor="middle">0.0</text>
<text class="tk" x="27.5" y="1364.15" text-anchor="end">0.0</text>
<line class="ti" x1="76.41" y1="1368.8" x2="76.41" y2="1371.9"/>
<line class="ti" x1="30.5" y1="1328.45" x2="33.6" y2="1328.45"/>
<text class="tk" x="76.41" y="1381.2" text-anchor="middle">0.2</text>
<text class="tk" x="27.5" y="1331.9" text-anchor="end">0.2</text>
<line class="ti" x1="110.92" y1="1368.8" x2="110.92" y2="1371.9"/>
<line class="ti" x1="30.5" y1="1296.2" x2="33.6" y2="1296.2"/>
<text class="tk" x="110.92" y="1381.2" text-anchor="middle">0.4</text>
<text class="tk" x="27.5" y="1299.65" text-anchor="end">0.4</text>
<line class="ti" x1="145.43" y1="1368.8" x2="145.43" y2="1371.9"/>
<line class="ti" x1="30.5" y1="1263.95" x2="33.6" y2="1263.95"/>
<text class="tk" x="145.43" y="1381.2" text-anchor="middle">0.6</text>
<text class="tk" x="27.5" y="1267.4" text-anchor="end">0.6</text>
<line class="ti" x1="179.94" y1="1368.8" x2="179.94" y2="1371.9"/>
<line class="ti" x1="30.5" y1="1231.7" x2="33.6" y2="1231.7"/>
<text class="tk" x="179.94" y="1381.2" text-anchor="middle">0.8</text>
<text class="tk" x="27.5" y="1235.15" text-anchor="end">0.8</text>
<line class="ti" x1="214.45" y1="1368.8" x2="214.45" y2="1371.9"/>
<line class="ti" x1="30.5" y1="1199.45" x2="33.6" y2="1199.45"/>
<path class="tk1" transform="translate(209.17 1381.2) scale(0.00371)" d="M515 0V-1237L197 -1010V-1180L530 -1409H696V0Z"/><text class="tk" x="213.39" y="1381.2">.0</text>
<path class="tk1" transform="translate(16.94 1202.9) scale(0.00371)" d="M515 0V-1237L197 -1010V-1180L530 -1409H696V0Z"/><text class="tk" x="21.16" y="1202.9">.0</text>
<text class="lb" x="128.38" y="1394.8" text-anchor="middle">Prediction rate</text>
<text class="lb" transform="translate(10.2 1280.62) rotate(-90)" text-anchor="middle">Observed rate</text>
</g>
<g>
<text class="lb" x="358.83" y="1186.65" text-anchor="middle">No stroke</text>
<line class="ln" x1="272.7" y1="1360.7" x2="445.25" y2="1199.45"/>
<circle class="pt" cx="278.6" cy="1348.5" r="2.85"/>
<circle class="pt" cx="285.6" cy="1337.2" r="2.85"/>
<circle class="pt" cx="293.6" cy="1340.8" r="2.85"/>
<circle class="pt" cx="301.4" cy="1322.3" r="2.85"/>
<circle class="pt" cx="310.6" cy="1313.4" r="2.85"/>
<circle class="pt" cx="321.2" cy="1301.7" r="2.85"/>
<circle class="pt" cx="331.3" cy="1290.1" r="2.85"/>
<circle class="pt" cx="343" cy="1282.3" r="2.85"/>
<circle class="pt" cx="354.6" cy="1267" r="2.85"/>
<circle class="pt" cx="365.7" cy="1262" r="2.85"/>
<circle class="pt" cx="376.5" cy="1239.1" r="2.85"/>
<circle class="pt" cx="385.1" cy="1248.1" r="2.85"/>
<circle class="pt" cx="392.1" cy="1238.2" r="2.85"/>
<circle class="pt" cx="399.5" cy="1232.8" r="2.85"/>
<circle class="pt" cx="405.7" cy="1218.8" r="2.85"/>
<circle class="pt" cx="410.5" cy="1227.7" r="2.85"/>
<circle class="pt" cx="414.3" cy="1220.1" r="2.85"/>
<circle class="pt" cx="418.2" cy="1220.2" r="2.85"/>
<circle class="pt" cx="422" cy="1208.1" r="2.85"/>
<circle class="pt" cx="427.6" cy="1204.7" r="2.85"/>
<circle class="pt" cx="435.3" cy="1204.7" r="2.85"/>
<rect class="sp" x="264.05" y="1191.25" width="189.55" height="177.55"/>
<line class="ti" x1="272.7" y1="1368.8" x2="272.7" y2="1371.9"/>
<line class="ti" x1="260.95" y1="1360.7" x2="264.05" y2="1360.7"/>
<text class="tk" x="272.7" y="1381.2" text-anchor="middle">0.0</text>
<text class="tk" x="257.95" y="1364.15" text-anchor="end">0.0</text>
<line class="ti" x1="307.21" y1="1368.8" x2="307.21" y2="1371.9"/>
<line class="ti" x1="260.95" y1="1328.45" x2="264.05" y2="1328.45"/>
<text class="tk" x="307.21" y="1381.2" text-anchor="middle">0.2</text>
<text class="tk" x="257.95" y="1331.9" text-anchor="end">0.2</text>
<line class="ti" x1="341.72" y1="1368.8" x2="341.72" y2="1371.9"/>
<line class="ti" x1="260.95" y1="1296.2" x2="264.05" y2="1296.2"/>
<text class="tk" x="341.72" y="1381.2" text-anchor="middle">0.4</text>
<text class="tk" x="257.95" y="1299.65" text-anchor="end">0.4</text>
<line class="ti" x1="376.23" y1="1368.8" x2="376.23" y2="1371.9"/>
<line class="ti" x1="260.95" y1="1263.95" x2="264.05" y2="1263.95"/>
<text class="tk" x="376.23" y="1381.2" text-anchor="middle">0.6</text>
<text class="tk" x="257.95" y="1267.4" text-anchor="end">0.6</text>
<line class="ti" x1="410.74" y1="1368.8" x2="410.74" y2="1371.9"/>
<line class="ti" x1="260.95" y1="1231.7" x2="264.05" y2="1231.7"/>
<text class="tk" x="410.74" y="1381.2" text-anchor="middle">0.8</text>
<text class="tk" x="257.95" y="1235.15" text-anchor="end">0.8</text>
<line class="ti" x1="445.25" y1="1368.8" x2="445.25" y2="1371.9"/>
<line class="ti" x1="260.95" y1="1199.45" x2="264.05" y2="1199.45"/>
<path class="tk1" transform="translate(439.97 1381.2) scale(0.00371)" d="M515 0V-1237L197 -1010V-1180L530 -1409H696V0Z"/><text class="tk" x="444.19" y="1381.2">.0</text>
<path class="tk1" transform="translate(247.39 1202.9) scale(0.00371)" d="M515 0V-1237L197 -1010V-1180L530 -1409H696V0Z"/><text class="tk" x="251.61" y="1202.9">.0</text>
<text class="lb" x="358.83" y="1394.8" text-anchor="middle">Prediction rate</text>
<text class="lb" transform="translate(240.65 1280.62) rotate(-90)" text-anchor="middle">Observed rate</text>
</g>
<text class="pn" transform="translate(-0.04 13.57) scale(0.8959 0.9592)">a</text>
<text class="pn" transform="translate(-0.33 481.86) scale(1.0694 1.0000)">b</text>
<text class="pn" transform="translate(-0.39 954.56) scale(1.0367 0.9980)">c</text>
</svg></body></html>
